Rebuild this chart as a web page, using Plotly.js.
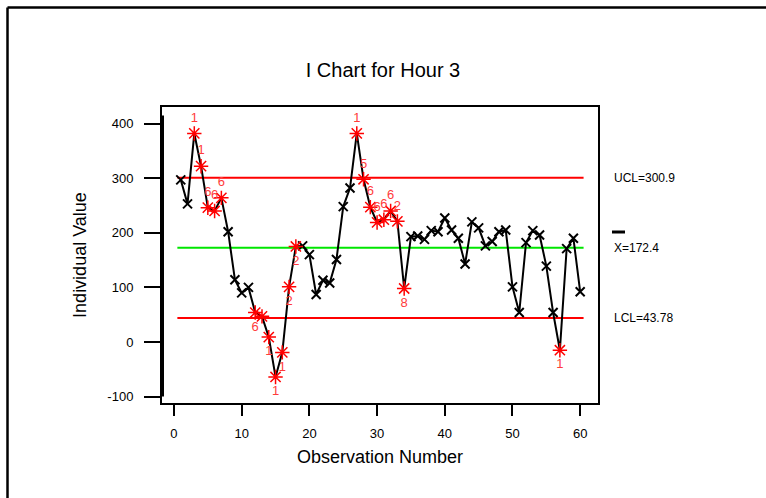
<!DOCTYPE html>
<html>
<head>
<meta charset="utf-8">
<script src="https://cdn.plot.ly/plotly-3.0.1.min.js"></script>
<style>
html,body{margin:0;padding:0;background:#fff;}
#chart{width:766px;height:498px;}
</style>
</head>
<body>
<div id="chart"></div>
<script>
// ---- data ----
var obs = [];
for (var i = 1; i <= 60; i++) obs.push(i);
var values = [297,253,382,322,246,240,264,202,114,90,
              100,54,47,9,-64,-19,101,175,176,160,
              87,113,108,151,248,282,382,298,247,219,
              224,240,221,98,193,194,188,204,202,227,
              205,190,143,220,209,176,184,202,205,101,
              54,182,204,196,139,54,-15,171,190,92];
// failed-test label per observation ("" = in control)
var testLabels = ["","","1","1","6","6","6","","","",
                  "","6","","1","1","1","2","2","","",
                  "","","","","","","1","5","6","6",
                  "6","6","2","8","","","","","","",
                  "","","","","","","","","","",
                  "","","","","","","1","","",""];
var flagged = [0,0,1,1,1,1,1,0,0,0,
               0,1,1,1,1,1,1,1,0,0,
               0,0,0,0,0,0,1,1,1,1,
               1,1,1,1,0,0,0,0,0,0,
               0,0,0,0,0,0,0,0,0,0,
               0,0,0,0,0,0,1,0,0,0];
var labelSide = {"3":"top","4":"top","5":"top","6":"top","7":"top",
                 "27":"top","28":"top","29":"top","30":"top","31":"top","32":"top","33":"top"};
var UCL = 300.9, CL = 172.4, LCL = 43.78;
var xTicks = [0,10,20,30,40,50,60];
var yTicks = [-100,0,100,200,300,400];
var yTickText = ["-100","0","100","200","300","400"];

// ---- build traces ----
var lineStart = obs[0] - 0.5, lineEnd = obs[obs.length-1] + 0.5;
var okX=[], okY=[], badX=[], badY=[], badT=[], badP=[];
for (var k = 0; k < obs.length; k++) {
  if (flagged[k]) {
    badX.push(obs[k]); badY.push(values[k]); badT.push(testLabels[k]);
    badP.push(labelSide[String(obs[k])] ? "top center" : "bottom center");
  } else { okX.push(obs[k]); okY.push(values[k]); }
}
var traces = [
  {x:[lineStart,lineEnd], y:[UCL,UCL], mode:'lines', line:{color:'#ff0000', width:2}, hoverinfo:'skip'},
  {x:[lineStart,lineEnd], y:[CL,CL], mode:'lines', line:{color:'#00e600', width:2}, hoverinfo:'skip'},
  {x:[lineStart,lineEnd], y:[LCL,LCL], mode:'lines', line:{color:'#ff0000', width:2}, hoverinfo:'skip'},
  {x:obs, y:values, mode:'lines', line:{color:'#000', width:2}},
  {x:okX, y:okY, mode:'markers', marker:{symbol:'x-thin-open', size:9, color:'#000', line:{color:'#000', width:2}}},
  {x:badX, y:badY, mode:'markers+text', text:badT, textposition:badP,
   textfont:{family:'Liberation Sans, Arial, sans-serif', size:13, color:'#ff3b3b'},
   marker:{symbol:'asterisk-open', size:12, color:'#ff0000', line:{color:'#ff0000', width:1.5}}}
];

var font = 'Liberation Sans, Arial, sans-serif';
var layout = {
  width:766, height:498,
  margin:{l:162, r:168, t:107, b:95},
  showlegend:false,
  paper_bgcolor:'#fff', plot_bgcolor:'#fff',
  font:{family:font, color:'#000'},
  title:{text:'I Chart for Hour 3', font:{family:font, size:20, color:'#000'},
         x:0.5, xref:'container', y:1-70/498, yref:'container', yanchor:'middle'},
  xaxis:{range:[-1.77,62.63], tickvals:xTicks, ticks:'outside', ticklen:11, tickwidth:2, tickcolor:'#000',
         showgrid:false, zeroline:false, showline:true, mirror:true, linewidth:2, linecolor:'#000',
         tickfont:{family:font, size:13, color:'#000'}, ticklabelstandoff:6,
         title:{text:'Observation Number', font:{family:font, size:18, color:'#000'}, standoff:11}},
  yaxis:{range:[-111.7,430.4], tickvals:yTicks, ticktext:yTickText, ticks:'outside', ticklen:16, tickwidth:2, tickcolor:'#000',
         showgrid:false, zeroline:false, showline:true, mirror:true, linewidth:2, linecolor:'#000',
         tickfont:{family:font, size:13, color:'#000'}, ticklabelstandoff:8,
         title:{text:'Individual Value', font:{family:font, size:18, color:'#000'}, standoff:16}},
  annotations:[
    {text:'UCL=300.9', x:1.032, xref:'paper', xanchor:'left', y:UCL, yref:'y', yanchor:'middle', showarrow:false, font:{family:font, size:12, color:'#000'}},
    {text:'X=172.4', x:1.032, xref:'paper', xanchor:'left', y:CL, yref:'y', yanchor:'middle', showarrow:false, font:{family:font, size:12, color:'#000'}},
    {text:'LCL=43.78', x:1.032, xref:'paper', xanchor:'left', y:LCL, yref:'y', yanchor:'middle', showarrow:false, font:{family:font, size:12, color:'#000'}}
  ],
  shapes:[
    {type:'line', xref:'paper', yref:'paper', x0:(612-162)/436, x1:(625-162)/436, y0:(403-232)/296, y1:(403-232)/296, line:{color:'#000', width:3}},
    {type:'line', xref:'paper', yref:'y', x0:0, x1:0, y0:-100, y1:415, line:{color:'#000', width:4}},
    {type:'line', xref:'paper', yref:'paper', x0:(7.5-162)/436, x1:(7.5-162)/436, y0:(403-498)/296, y1:(403-7.5)/296, line:{color:'#000', width:2.5}},
    {type:'line', xref:'paper', yref:'paper', x0:(7.5-162)/436, x1:(766-162)/436, y0:(403-7.5)/296, y1:(403-7.5)/296, line:{color:'#000', width:2.5}}
  ]
};
Plotly.newPlot('chart', traces, layout, {displayModeBar:false, staticPlot:true});
</script>
</body>
</html>
